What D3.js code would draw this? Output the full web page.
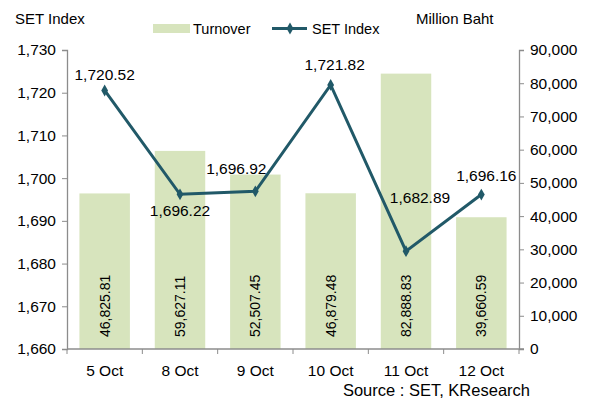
<!DOCTYPE html>
<html>
<head>
<meta charset="utf-8">
<script src="https://cdn.jsdelivr.net/npm/d3@7"></script>
<style>
  body { margin: 0; background: #fff; }
  text { font-family: "Liberation Sans", Arial, sans-serif; fill: #000; }
</style>
</head>
<body>
<div id="chart"></div>
<script>
// data
const dates = ["5 Oct", "8 Oct", "9 Oct", "10 Oct", "11 Oct", "12 Oct"];
const turnover = [46825.81, 59627.11, 52507.45, 46879.48, 82888.83, 39660.59];
const setIndex = [1720.52, 1696.22, 1696.92, 1721.82, 1682.89, 1696.16];
const leftTicks = [1660, 1670, 1680, 1690, 1700, 1710, 1720, 1730];
const rightTicks = [0, 10000, 20000, 30000, 40000, 50000, 60000, 70000, 80000, 90000];

const width = 595, height = 403;
const barColor = "#d7e4bd", lineColor = "#215968", axisColor = "#8c8c8c";
const fmt = d3.format(",.2f");

const svg = d3.select("#chart").append("svg")
  .attr("width", width)
  .attr("height", height);

const x = d3.scaleBand().domain(dates).range([67, 519]).paddingInner(0.33).paddingOuter(0.165);
const xc = d3.scaleBand().domain(dates).range([67, 519]);
const yL = d3.scaleLinear().domain([1660, 1730]).range([349, 50]);
const yR = d3.scaleLinear().domain([0, 90000]).range([349, 50]);

// bars
svg.selectAll(".bar").data(turnover).enter()
  .append("rect")
  .attr("class", "bar")
  .attr("x", (d, i) => x(dates[i]))
  .attr("width", x.bandwidth())
  .attr("y", d => yR(d))
  .attr("height", d => yR(0) - yR(d))
  .attr("fill", barColor);

// bar labels, rotated
svg.selectAll(".barlab").data(turnover).enter()
  .append("text")
  .attr("transform", (d, i) => "translate(" + (xc(dates[i]) + xc.bandwidth() / 2 + 5) + ",337) rotate(-90)")
  .attr("text-anchor", "start")
  .style("font-size", "14px")
  .text(d => fmt(d));

// axes
const axL = svg.append("g").attr("transform", "translate(67,0)")
  .call(d3.axisLeft(yL).tickValues(leftTicks).tickFormat(d3.format(",")).tickSize(5).tickPadding(6));
const axR = svg.append("g").attr("transform", "translate(519,0)")
  .call(d3.axisRight(yR).tickValues(rightTicks).tickFormat(d3.format(",")).tickSize(5).tickPadding(6));
const axB = svg.append("g").attr("transform", "translate(0,349)")
  .call(d3.axisBottom(xc).tickSize(0).tickPadding(16));

// bottom ticks at the category boundaries
const bounds = dates.map(d => xc(d)).concat([xc.range()[1]]);
axB.selectAll(".bound").data(bounds).enter()
  .append("line")
  .attr("x1", d => d).attr("x2", d => d)
  .attr("y1", 0).attr("y2", 5)
  .attr("stroke", axisColor);

[axL, axR, axB].forEach(a => {
  a.select(".domain").attr("stroke", axisColor).attr("stroke-width", 1.3);
  a.selectAll(".tick line").attr("stroke", axisColor);
  a.selectAll(".tick text").style("font-size", "15.5px").style("font-family", "Liberation Sans, Arial, sans-serif").attr("fill", "#000");
});
axB.select(".domain").attr("d", "M67,0H524");

// SET index line
const line = d3.line()
  .x((d, i) => xc(dates[i]) + xc.bandwidth() / 2)
  .y(d => yL(d));

svg.append("path")
  .datum(setIndex)
  .attr("d", line)
  .attr("fill", "none")
  .attr("stroke", lineColor)
  .attr("stroke-width", 3);

svg.selectAll(".pt").data(setIndex).enter()
  .append("path")
  .attr("d", d3.symbol().type(d3.symbolDiamond).size(40))
  .attr("transform", (d, i) => "translate(" + (xc(dates[i]) + xc.bandwidth() / 2) + "," + yL(d) + ")")
  .attr("fill", lineColor);

// point labels (excel-style placement)
const labOff = [[0, -10], [0, 22], [-19, -17], [4, -15], [14, -48], [5, -14]];
svg.selectAll(".ptlab").data(setIndex).enter()
  .append("text")
  .attr("x", (d, i) => xc(dates[i]) + xc.bandwidth() / 2 + labOff[i][0])
  .attr("y", (d, i) => yL(d) + labOff[i][1])
  .attr("text-anchor", "middle")
  .style("font-size", "15.5px")
  .text(d => fmt(d));

// titles
svg.append("text").attr("x", 15).attr("y", 24).style("font-size", "15px").text("SET Index");
svg.append("text").attr("x", 416).attr("y", 24).style("font-size", "15px").text("Million Baht");

// legend
svg.append("rect").attr("x", 153).attr("y", 24).attr("width", 37).attr("height", 9).attr("fill", barColor);
svg.append("text").attr("x", 193).attr("y", 34).style("font-size", "14.5px").text("Turnover");
svg.append("line").attr("x1", 272).attr("x2", 307).attr("y1", 28.5).attr("y2", 28.5)
  .attr("stroke", lineColor).attr("stroke-width", 3);
svg.append("path").attr("d", d3.symbol().type(d3.symbolDiamond).size(40))
  .attr("transform", "translate(290,28.5)").attr("fill", lineColor);
svg.append("text").attr("x", 312).attr("y", 34).style("font-size", "14.5px").text("SET Index");

// source
svg.append("text").attr("x", 530).attr("y", 396).attr("text-anchor", "end")
  .style("font-size", "16.5px").text("Source : SET, KResearch");
</script>
</body>
</html>
